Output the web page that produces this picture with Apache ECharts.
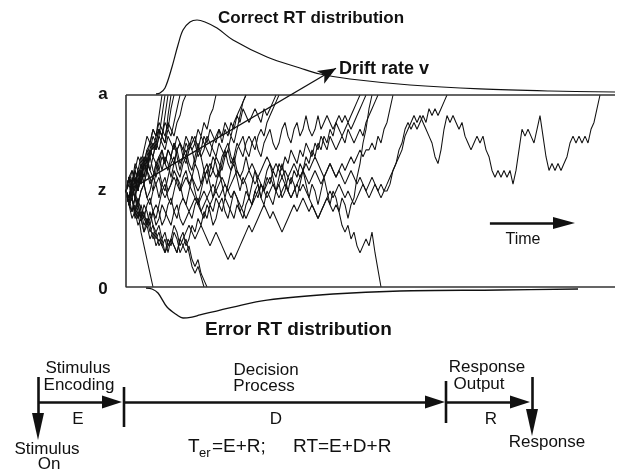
<!DOCTYPE html>
<html><head><meta charset="utf-8">
<script src="https://cdn.jsdelivr.net/npm/echarts/dist/echarts.min.js"></script>
<style>html,body{margin:0;padding:0;background:#fff}#c{width:618px;height:473px}</style>
</head><body><div id="c"></div>
<script>
// ---------- DATA ----------
// Evidence units: 0 = lower boundary, A = upper boundary, Z = start point
const A = 28, Z = 14, TMAX = 163;
// Sample paths: evidence value at each time step (step index = time)
const walk1 = [14,16,15,18,17,19,18,20,21,23,22,25,28];
const walk2 = [14,12,15,14,17,16,18,20,19,21,20,22,25,28];
const walk3 = [14,16,13,15,17,16,19,18,20,22,21,23,22,25,28];
const walk4 = [14,13,16,15,17,15,18,17,20,19,21,20,22,21,25,28];
const walk5 = [14,15,17,16,14,17,19,18,20,19,21,23,22,21,23,22,24,26,28];
const walk6 = [14,12,15,13,16,15,18,17,19,21,20,22,21,20,22,21,20,22,21,20,22,21,20,21,23,22,24,23,25,26,28];
const walk7 = [14,16,14,13,15,17,15,17,19,17,16,18,20,18,20,19,18,20,21,20,19,21,20,18,20,19,20,22,21,20,19,21,20,19,20,22,21,23,25,27,28];
const walk8 = [14,12,14,16,14,17,15,17,16,14,17,19,17,19,18,16,18,20,21,19,18,20,21,22,20,22,21,20,19,21,22,23,21,23,22,24,23,25,24,26,25,24,25,26,25,24,26,25,26,27,28];
const walk9 = [14,16,15,17,15,18,16,19,17,16,18,
  19,20,18,17,19,21,19,17,19,20, 18,17,19,21,19,17,15,17,19,18,
  16,18,20,21,19,18,20,21,22,20, 19,21,22,20,19,21,22,23,21,20,
  21,23,24,22,21,23,24,22,23,25, 23,22,23,25,23,24,25,24,23,24,
  25,24,25,24,25,26,27,28];
const walk10 = [14,12,13,11,13,11,10,12,13,11,10,
  12,14,15,13,12,14,16,15,13,12, 14,16,14,12,14,16,17,15,13,15,
  17,15,13,15,17,18,16,14,16,15, 13,15,17,15,13,15,17,18,16,14,
  16,18,16,14,16,15,13,15,17,15, 13,15,14,12,14,16,14,12,14,13,
  11,13,12,10,12,13, 16,18,21,23,26,28];
const walk11 = [14,16,17,15,14,16,18,17,15,16,18,
  17,15,14,16,18,19,17,16,18,19, 17,16,15,14,15,16,17,18,17,16,
  17,19,20,18,17,19,17,16,17,19, 17,18,17,16,17,18,19,18,17,18,
  17,16,15,14,13,14,15,16,17,18, 17,18,19,18,17,16,17,18,17,16,
  17,18,17,18,19,18,19,20,19,20, 20,21,20,22,21,23,24,26,28];
const walk12 = [14,12,11,13,12,10,12,11,9,11,12,
  11,9,10,12,13,11,10,12,13,12, 11,12,13,12,13,14,13,12,13,14,
  13,14,15,14,13,14,13,12,11,10, 11,12,13,14,15,14,13,14,15,14,
  13,14,15,14,13,14,15,14,15,14, 13,12,11,10,11,12,13,14,13,14,
  15,14,13,14,13,12,13,14,15,14, 13,14,15,14,13,14,14,
  15,17,18,20,21,23,24,23, 24,23,24,25,24,26,25,26,25,26,27,28];
const walk13 = [14,13,15,13,12,14,15,13,12,14,15,
  16,14,13,14,15,16,15,14,15,16, 15,14,13,12,11,12,13,14,15,14,
  15,16,15,14,15,16,17,16,15,16, 17,16,15,16,15,14,15,16,15,14,
  15,16,17,16,17,18,17,16,17,16, 15,16,17,16,15,16,17,18,17,16,
  17,16,15,16,17,16,15,16,15,14, 15,16,15,14,15,14,15,16,17,18,
  19,20,22,23,24,25,24,25,24, 23,22,21,19,18,20,23,
  25,24,25,24,23,24,22,21,20,21, 22,21,22,20,19,17,16,17,16,17,
  16,17,15,17,20,23,22,23,22,21, 23,25,22,19,17,18,17,18,17,18,
  19,21,22,21,22,21,22,21,23,24, 26,28];
const walk14 = [14,12,13,10,11,8,6,4,2,0];
const walk15 = [14,12,11,13,11,10,8,10,9,7,8, 6,7,5,7,6,8,7,5,6,7, 5,3,2,3,1.5,0];
const walk16 = [14,13,11,12,10,11,9,10,8,9,7, 8,6,7,5,7,6,5,7,6,5, 6,4,3,4,2,1,0];
const walk17 = [14,12,13,11,10,12,10,9,11,9,8,
  9,7,8,6,7,9,8,6,7,8, 9,8,7,8,9,8,7,6,7,8,
  7,6,5,4,5,4,5,6,7,8, 9,8,9,10,11,12,11,10,11,10,
  9,8,9,10,11,12,11,12,13,12, 11,12,11,10,11,12,13,12,11,12,
  11,9,8,9,7,8,6,5,6,7, 6,8,5,2.5,0];
const walk18 = [14,16,15,17,19,18,20,22,21,23,22,24,23,22,24,23,22,24,25,27,28];
const walk19 = [14,13,15,17,16,18,17,19,21,20,22,23,22,24,23,26,28];
const walk20 = [14,12,10,11,9,10,8,9,7,8,6,
  7,6,5,6,7,6,5,7,8,6, 7,9,8,10,9,11,10,12,11,13,
  12,11,13,12,11,10,12,11,10,12, 13,12,14,13,15,14,16,15,17,16,
  18,17,19,18,20,19,18,20,19,21, 20,19,21,20,22,21,20,22,21,20,
  21,22,21,23,22,21,22,23,22,24, 25,26,27,28];
const walk21 = [14,15,13,16,14,17,16,18,17,19,18, 17,19,18,20,19,21,20,18,19,21,
  20,22,21,19,20,22,21,23,22,21, 23,22,24,23,22,24,25,26,27,28];
const walk22 = [14,13,15,14,12,14,15,13,14,16,15, 13,15,16,14,15,17,16,14,16,17,
  15,16,18,17,15,17,18,16,17,19, 18,17,19,20,18,19,21,20,19,21,
  22,21,20,22,23,22,24,25,26,27, 28];
const walk23 = [14,12,13,11,12,10,11,9,10,11,9,
  10,12,11,10,9,11,12,10,9,10, 11,10,12,13,11,10,12,11,9,10,
  12,13,11,10,12,14,13,11,12,14, 13,12,14,15,13,12,14,13,12,14,
  15,13,14,16,15,17,16,18,17,19, 18,20,19,21,20,22,21,23,22,24,
  23,22,23,24,23,24,25,26,27,28];
const walks = [walk1,walk2,walk3,walk4,walk5,walk6,walk7,walk8,walk9,walk10,walk11,walk12,
  walk13,walk14,walk15,walk16,walk17,walk18,walk19,walk20,walk21,walk22,walk23];

// RT densities drawn outside the boundaries: [time, evidence]
const correctRT = [[10,28.15],[11.33,28.29],[13,29.02],[15.33,32.08],[17.33,35.29],[19,37.48],[21.33,38.65],[23.67,38.94],[26.33,38.65],[30.33,37.77],[35.67,36.02],[47,33.54],[58,31.94],[64.67,31.06],[74.67,30.33],[94.67,29.46],[118,28.88],[141.33,28.58],[163,28.44]];
const errorRT = [[6.67,-0.15],[8.67,-0.29],[10.67,-0.88],[13.67,-2.92],[17,-4.08],[19,-4.52],[22,-4.38],[24.67,-4.08],[35.67,-2.92],[47,-1.9],[69,-1.02],[91.33,-0.58],[124.67,-0.44],[150.67,-0.29]];
const driftLine = [[1.3, 14.2], [70, 31.9]];
const timeArrow = [[121.3, 9.33], [146, 9.33]];

// Processing stages timeline (time units): onset, end of E, end of D, response
const stageEdges = [0, 86, 408, 494];
const stageLetters = ['E','D','R'];

// ---------- CHART ----------
const FONT = "'Liberation Sans', Arial, Helvetica, sans-serif";
const INK = '#111';
const U = 192 / A;            // px per evidence unit
const YMIN = -6, YMAX = 40;   // drawing room above/below the boundaries
const chart = echarts.init(document.getElementById('c'), null, {renderer:'canvas'});
const hiddenAxis = {axisLine:{show:false},axisTick:{show:false},axisLabel:{show:false},splitLine:{show:false}};

const series = walks.map(w => ({
  type:'line', xAxisIndex:0, yAxisIndex:0, data:w.map((v,i)=>[i,v]),
  showSymbol:false, symbol:'none', clip:false, silent:true,
  lineStyle:{color:INK,width:1.05}, z:2
}));
function arrowSeries(gi, from, to, width, sym, size){
  return {type:'line', xAxisIndex:gi, yAxisIndex:gi, data:[from.slice(), to.slice()], symbol:'none', clip:false, silent:true,
    lineStyle:{width:0, opacity:0}, z:4,
    markLine:{silent:true, animation:false, symbol:['none', sym], symbolSize:size, label:{show:false},
      lineStyle:{width:width,color:INK,type:'solid',opacity:1},
      data:[[{coord:from.slice()},{coord:to.slice()}]]}};
}
function segSeries(gi, pts, width, color){
  return {type:'line', xAxisIndex:gi, yAxisIndex:gi, data:pts, symbol:'none', clip:false, silent:true,
    lineStyle:{color:color||INK,width:width}, z:3};
}
const TL = 42; // timeline row in lower grid
series.push(
  segSeries(0, [[0,A],[TMAX,A]], 1.6, '#333'),
  segSeries(0, [[TMAX,0],[0,0],[0,A]], 1.6, '#333'),
  segSeries(0, [[-3,Z],[0,Z]], 1.6),
  Object.assign(segSeries(0, correctRT, 1.2), {smooth:0.35}),
  Object.assign(segSeries(0, errorRT, 1.3), {smooth:0.35}),
  arrowSeries(0, driftLine[0], driftLine[1], 1.3, 'arrow', [11,18]),
  arrowSeries(0, timeArrow[0], timeArrow[1], 2.6, 'triangle', [12,22]),
  arrowSeries(1, [stageEdges[0],17], [stageEdges[0],66.5], 2.6, 'triangle', [12,27]),
  arrowSeries(1, [stageEdges[0],TL], [stageEdges[1]-12,TL], 2.6, 'triangle', [13,20]),
  segSeries(1, [[stageEdges[1],27],[stageEdges[1],67]], 2.6),
  arrowSeries(1, [stageEdges[1],TL], [stageEdges[2]-11,TL], 2.6, 'triangle', [13,20]),
  segSeries(1, [[stageEdges[2],21],[stageEdges[2],63]], 2.6),
  arrowSeries(1, [stageEdges[2],TL], [stageEdges[3]-12,TL], 2.6, 'triangle', [13,20]),
  arrowSeries(1, [stageEdges[3],17], [stageEdges[3],62.5], 2.6, 'triangle', [12,27])
);

function T(x,y,s,size,bold,align){
  return {type:'text', x:x, y:y, silent:true, z:10, style:{text:s, font:(bold?'bold ':'')+size+'px '+FONT, fill:INK,
    textAlign:align||'left', align:align||'left', textVerticalAlign:'middle', verticalAlign:'middle'}};
}
const texts = [
  T(218,18,'Correct RT distribution',17,true),
  T(339,69,'Drift rate v',18,true),
  T(205,330,'Error RT distribution',19,true),
  T(103,94,'a',17,true,'center'),
  T(102,190.5,'z',17,true,'center'),
  T(103,289.5,'0',17,true,'center'),
  T(523,240,'Time',16,false,'center'),
  T(78,368,'Stimulus',17,false,'center'),
  T(79,385,'Encoding',17,false,'center'),
  T(78,419,stageLetters[0],17,false,'center'),
  T(47,449,'Stimulus',17,false,'center'),
  T(49,464,'On',17,false,'center'),
  T(266,370,'Decision',17,false,'center'),
  T(264,386,'Process',17,false,'center'),
  T(276,419,stageLetters[1],17,false,'center'),
  T(487,367,'Response',17,false,'center'),
  T(479,384,'Output',17,false,'center'),
  T(491,419,stageLetters[2],17,false,'center'),
  T(547,442,'Response',17,false,'center'),
  T(188,447,'T',19,false),
  T(199,453,'er',13,false),
  T(212,447,'=E+R;',19,false),
  T(293,447,'RT=E+D+R',19,false)
];

chart.setOption({
  animation:false,
  backgroundColor:'#fff',
  grid:[
    {left:126, top:95 - (YMAX - A) * U, width:489, height:(YMAX - YMIN) * U},
    {left:38, top:360, width:494, height:110}
  ],
  xAxis:[
    Object.assign({type:'value', gridIndex:0, min:0, max:TMAX}, hiddenAxis),
    Object.assign({type:'value', gridIndex:1, min:0, max:494}, hiddenAxis)
  ],
  yAxis:[
    Object.assign({type:'value', gridIndex:0, min:YMIN, max:YMAX}, hiddenAxis),
    Object.assign({type:'value', gridIndex:1, min:0, max:110, inverse:true}, hiddenAxis)
  ],
  series:series,
  graphic:texts
});
</script></body></html>
